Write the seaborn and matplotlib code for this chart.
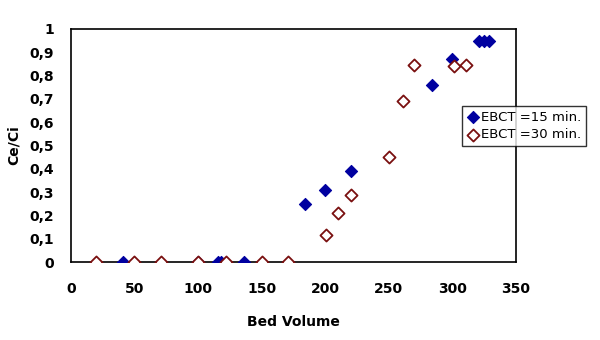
import matplotlib
matplotlib.use('Agg')
import matplotlib.pyplot as plt
import seaborn as sns
import pandas as pd
from matplotlib.ticker import FuncFormatter

# EBCT = 15 min (filled blue diamonds)
bv_15 = [41, 100, 116, 118, 136, 184, 200, 220, 284, 300, 321, 325, 329]
c_15 = [0, 0, 0, 0, 0, 0.25, 0.31, 0.39, 0.76, 0.87, 0.95, 0.95, 0.95]

# EBCT = 30 min (open diamonds)
bv_30 = [20, 50, 71, 100, 122, 150, 171, 201, 210, 220, 250, 261, 270, 301, 311]
c_30 = [0, 0, 0, 0, 0, 0, 0, 0.115, 0.21, 0.29, 0.45, 0.69, 0.845, 0.84, 0.845]

df15 = pd.DataFrame({'bv': bv_15, 'c': c_15})
df30 = pd.DataFrame({'bv': bv_30, 'c': c_30})

sns.set_style('white')
plt.rcParams['font.family'] = ['DejaVu Sans']
plt.rcParams['text.color'] = 'black'
plt.rcParams['axes.labelcolor'] = 'black'
plt.rcParams['xtick.color'] = 'black'
plt.rcParams['ytick.color'] = 'black'

fig = plt.figure(figsize=(6, 3.4), dpi=100)
ax = fig.add_axes([0.118, 0.229, 0.742, 0.686])

sns.scatterplot(data=df15, x='bv', y='c', ax=ax, marker='D', s=38,
                color='#0000a0', edgecolor='#0000a0', linewidth=0.8,
                label='EBCT =15 min.', zorder=3)
sns.scatterplot(data=df30, x='bv', y='c', ax=ax, marker='D', s=38,
                facecolor='white', edgecolor='#7a1010', linewidth=1.3,
                label='EBCT =30 min.', zorder=4)

ax.set_xlim(0, 350)
ax.set_ylim(0, 1)
ax.set_xticks(range(0, 351, 50))
ax.set_yticks([i / 10 for i in range(11)])
ax.yaxis.set_major_formatter(FuncFormatter(
    lambda v, p: '0' if v == 0 else ('1' if v == 1 else f'{v:.1f}'.replace('.', ','))))

for sp in ax.spines.values():
    sp.set_color('black')
    sp.set_linewidth(1.2)
ax.tick_params(axis='both', direction='out', length=5, width=1, color='black',
               labelsize=10, pad=9)
ax.tick_params(axis='y', pad=7)
for lab in ax.get_xticklabels() + ax.get_yticklabels():
    lab.set_fontweight('heavy')

ax.set_xlabel('Bed Volume', fontsize=10, fontweight='heavy', labelpad=14)
ax.set_ylabel('Ce/Ci', fontsize=10, fontweight='heavy', labelpad=6)

leg = ax.legend(loc='upper left', bbox_to_anchor=(462 / 600, 1 - 106 / 340),
                bbox_transform=fig.transFigure, fontsize=9.5, frameon=True,
                fancybox=False, edgecolor='black', borderpad=0.35,
                handletextpad=0.1, handlelength=1.0, labelspacing=0.35,
                borderaxespad=0)
leg.get_frame().set_linewidth(1.0)

fig.savefig('out.png', dpi=100)
